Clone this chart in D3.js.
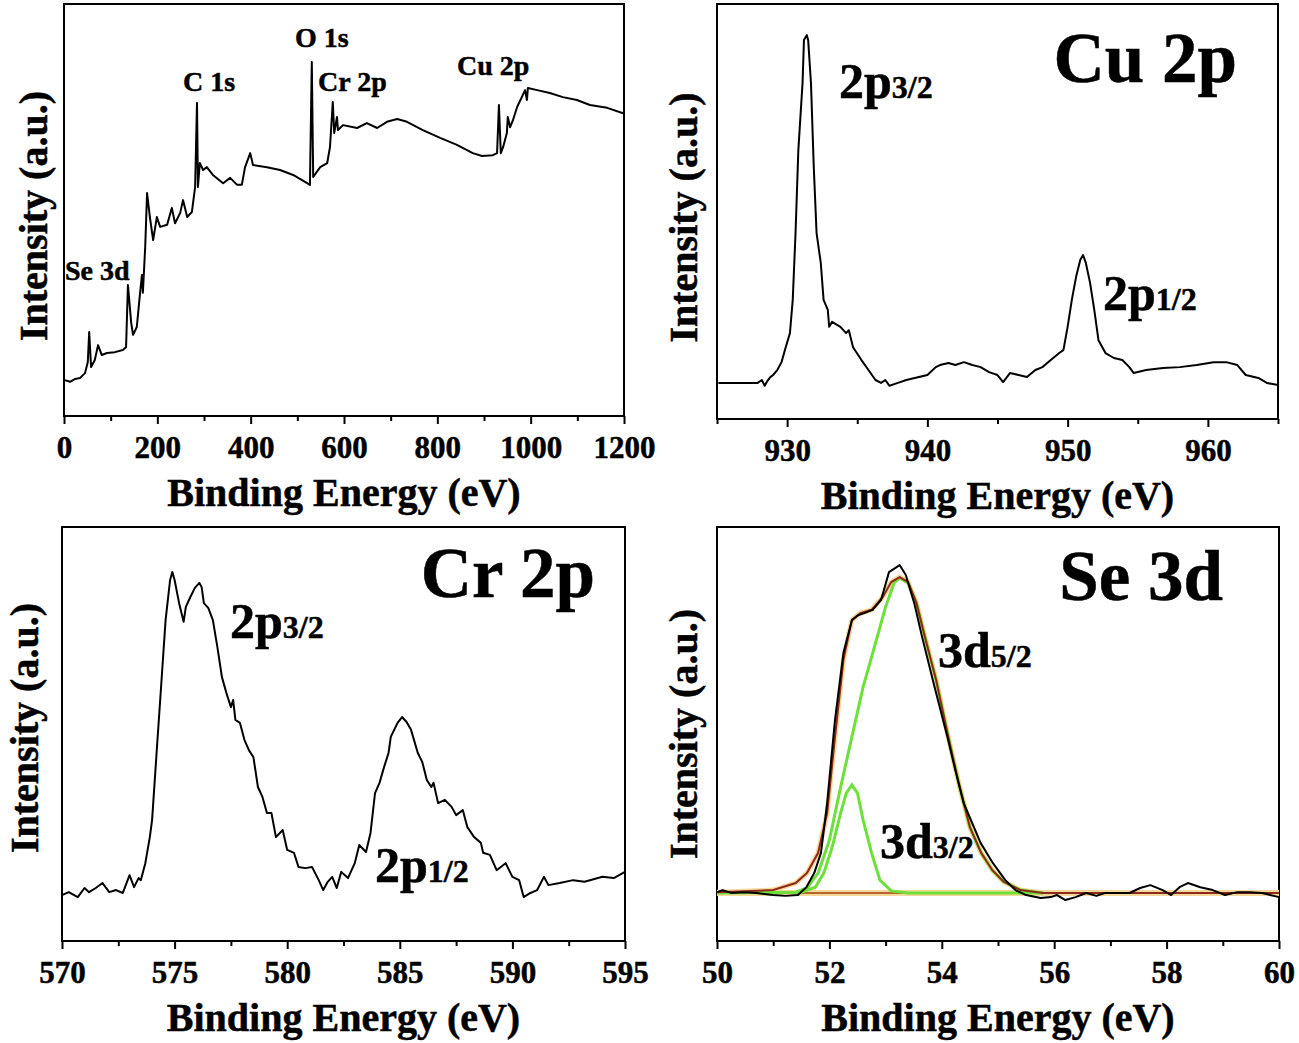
<!DOCTYPE html>
<html>
<head>
<meta charset="utf-8">
<script src="https://cdn.jsdelivr.net/npm/d3@7"></script>
<style>
  body { margin: 0; background: #fff; }
  svg { display: block; }
  text { font-family: "Liberation Serif", "Times New Roman", serif; font-weight: bold; fill: #000; stroke: #000; stroke-width: 0.5; }
  .trace { fill: none; stroke: #000; stroke-width: 2; stroke-linejoin: round; }
</style>
</head>
<body>
<svg width="1299" height="1043"></svg>
<script>
// survey spectrum: [binding energy eV, intensity a.u.]
const surveyData = [[2,8.7],[13,8.3],[24,9.0],[34,9.2],[45,10.4],[51,13.1],[54,20.4],[58,11.9],[66,13.6],[73,17.2],[81,14.8],[92,15.3],[109,15.5],[126,16.0],[133,16.7],[137,31.8],[144,22.6],[148,19.7],[156,21.6],[163,29.9],[167,34.2],[169,29.9],[174,41.0],[178,54.1],[184,48.3],[191,42.7],[199,48.3],[206,45.9],[221,46.4],[231,50.5],[238,46.8],[249,49.3],[255,52.4],[264,48.3],[274,49.5],[281,55.6],[285,76.0],[287,55.6],[291,61.4],[298,59.7],[306,60.4],[319,58.5],[341,56.5],[356,57.8],[371,56.1],[381,56.1],[388,60.4],[399,63.8],[405,60.9],[435,60.4],[463,59.7],[491,58.5],[521,56.5],[527,56.1],[531,85.9],[534,58.0],[549,60.4],[564,61.4],[570,65.3],[576,76.2],[579,68.7],[585,72.6],[587,69.4],[598,70.6],[628,69.9],[649,71.1],[671,69.9],[692,71.4],[714,72.1],[735,71.4],[769,69.4],[806,67.5],[842,65.8],[876,63.8],[896,63.1],[919,63.3],[928,63.8],[932,75.5],[936,63.8],[941,65.3],[949,68.7],[951,72.6],[956,70.1],[962,71.8],[971,75.0],[981,77.4],[988,79.1],[992,76.7],[994,79.6],[1014,79.1],[1041,78.4],[1069,77.4],[1099,76.7],[1127,75.5],[1164,74.8],[1198,73.5]]
const surveyPeaks = [["Se 3d",65,280],["C 1s",183,91],["O 1s",295,47],["Cr 2p",318,91],["Cu 2p",457,75]]

// Cu 2p
const cuData = [[925.1,8.7],[927.9,8.7],[928.2,9.4],[928.4,8.0],[928.6,9.2],[928.8,10.1],[929.0,10.6],[929.3,11.8],[929.6,13.7],[929.9,17.3],[930.2,20.7],[930.4,28.7],[930.6,44.8],[930.8,64.8],[931.1,81.0],[931.2,91.3],[931.4,92.5],[931.5,91.3],[931.7,81.0],[931.9,60.7],[932.1,44.8],[932.4,37.6],[932.6,28.7],[932.9,26.3],[933.0,22.2],[933.2,23.4],[933.8,22.2],[934.2,20.7],[934.4,21.4],[934.7,17.3],[935.3,14.2],[935.8,11.8],[936.3,9.4],[936.7,8.7],[937.0,9.4],[937.3,8.0],[937.9,8.7],[938.5,9.4],[939.1,9.9],[940.0,10.6],[940.6,12.5],[940.9,13.0],[941.5,13.5],[942.0,13.0],[942.6,13.7],[943.2,13.0],[943.8,12.5],[944.4,11.3],[945.0,10.6],[945.4,8.9],[945.9,11.1],[946.5,10.6],[947.1,10.1],[947.7,11.8],[948.2,12.5],[948.8,14.2],[949.4,15.9],[949.7,16.6],[950.0,22.2],[950.3,28.7],[950.6,34.2],[950.9,38.3],[951.1,39.5],[951.3,37.6],[951.6,32.8],[951.9,26.3],[952.2,19.0],[952.7,15.9],[953.3,14.7],[953.9,14.2],[954.4,12.5],[954.7,11.1],[955.6,11.8],[956.8,12.3],[958.0,12.5],[959.2,13.0],[960.4,13.7],[961.3,13.7],[962.1,13.0],[962.7,10.6],[963.6,9.9],[964.2,8.7],[965.0,8.2]]

// Cr 2p
const crData = [[570.0,11.1],[570.3,11.8],[570.7,10.6],[571.0,12.8],[571.2,11.8],[571.5,12.8],[571.8,14.0],[572.1,11.8],[572.4,12.3],[572.7,11.6],[573.0,15.9],[573.2,13.0],[573.4,15.2],[573.5,14.7],[573.7,18.8],[573.9,25.1],[574.0,29.2],[574.2,45.4],[574.4,61.4],[574.6,77.5],[574.8,87.2],[574.9,89.1],[575.0,87.2],[575.2,81.6],[575.4,77.1],[575.5,80.7],[575.7,83.1],[575.9,85.3],[576.1,86.5],[576.2,85.5],[576.3,81.6],[576.5,80.4],[576.7,77.5],[576.9,71.0],[577.1,63.8],[577.3,59.9],[577.5,56.5],[577.6,58.2],[577.7,53.4],[577.9,52.7],[578.1,48.6],[578.3,46.1],[578.5,44.4],[578.7,37.2],[578.9,34.8],[579.1,30.9],[579.3,30.9],[579.5,25.1],[579.8,26.8],[580.0,22.0],[580.3,21.3],[580.5,17.9],[580.8,17.6],[581.1,17.9],[581.4,14.7],[581.6,12.3],[581.8,14.3],[582.0,15.5],[582.2,12.8],[582.4,16.7],[582.7,15.2],[583.0,18.8],[583.2,23.2],[583.5,21.5],[583.7,26.1],[583.9,35.7],[584.1,38.2],[584.3,42.0],[584.5,45.4],[584.6,49.3],[584.9,52.7],[585.1,54.1],[585.3,52.9],[585.5,51.0],[585.8,45.4],[586.0,43.2],[586.2,38.9],[586.4,37.2],[586.5,38.2],[586.7,33.3],[587.0,34.1],[587.3,32.4],[587.5,30.4],[587.8,31.6],[588.0,27.5],[588.3,25.1],[588.6,23.7],[588.7,21.3],[589.0,20.8],[589.3,17.1],[589.7,18.8],[590.0,15.5],[590.3,14.7],[590.5,10.6],[590.8,11.6],[591.1,12.3],[591.4,15.5],[591.6,13.5],[592.1,14.0],[592.7,14.7],[593.2,14.3],[594.0,15.5],[594.5,15.2],[595.0,16.7]]

// Se 3d: measured, fitted envelope, two components, background
const seData = [[50.0,11.8],[50.1,12.3],[50.26,11.6],[50.48,11.8],[50.7,11.6],[51.0,11.1],[51.22,10.9],[51.44,11.1],[51.59,13.0],[51.73,16.4],[51.85,21.3],[51.96,33.3],[52.10,53.4],[52.25,69.6],[52.40,77.5],[52.51,78.7],[52.62,79.2],[52.77,80.0],[52.92,82.4],[53.06,89.1],[53.25,90.8],[53.36,88.4],[53.51,81.6],[53.65,73.4],[53.87,61.4],[54.10,49.3],[54.24,41.3],[54.39,33.3],[54.54,28.5],[54.69,23.7],[54.91,18.8],[55.13,14.7],[55.31,12.3],[55.50,11.1],[55.76,10.4],[55.94,10.6],[56.05,11.1],[56.20,9.9],[56.38,10.6],[56.57,11.6],[56.75,10.9],[56.90,11.6],[57.12,11.6],[57.34,11.6],[57.53,12.8],[57.71,13.5],[57.93,12.3],[58.08,11.1],[58.23,13.0],[58.38,14.0],[58.60,13.0],[58.82,12.3],[59.04,11.1],[59.26,11.8],[59.48,11.8],[59.70,11.6],[60.0,10.6]]
const seFit = [[50.0,11.8],[51.0,12.3],[51.4,14.0],[51.6,16.4],[51.8,21.3],[51.96,30.9],[52.1,49.3],[52.25,67.9],[52.4,77.5],[52.55,79.2],[52.75,80.0],[52.95,83.1],[53.1,86.7],[53.25,87.9],[53.4,86.7],[53.55,81.6],[53.7,73.4],[53.9,63.0],[54.1,50.2],[54.3,38.2],[54.5,27.5],[54.7,21.3],[54.9,17.1],[55.1,14.3],[55.4,12.3],[55.8,11.6],[60.0,11.6]]
const se52 = [[50.0,11.6],[51.4,11.8],[51.6,12.8],[51.8,16.4],[52.0,24.4],[52.2,37.2],[52.4,49.3],[52.6,61.4],[52.8,71.0],[53.0,80.7],[53.15,86.5],[53.25,87.7],[53.4,86.5],[53.55,81.6],[53.7,73.4],[53.9,63.0],[54.1,50.2],[54.3,38.2],[54.5,27.5],[54.7,21.3],[54.9,17.1],[55.1,14.3],[55.4,12.3],[55.8,11.6]]
const se32 = [[50.8,11.6],[51.5,11.8],[51.75,13.0],[51.9,16.4],[52.05,22.7],[52.2,30.9],[52.3,35.7],[52.4,37.7],[52.5,35.7],[52.6,29.2],[52.75,21.3],[52.9,14.7],[53.1,12.1],[53.4,11.6],[55.8,11.6]]
const seBackground = [[50.0,11.6],[60.0,11.6]]

const surveyMajor = [0,200,400,600,800,1000,1200]
const surveyMinor = [100,300,500,700,900,1100]
const cuMajor = [930,940,950,960]
const cuMinor = [925,935,945,955,965]
const crMajor = [570,575,580,585,590,595]
const crMinor = [572.5,577.5,582.5,587.5,592.5]
const seMajor = [50,52,54,56,58,60]
const seMinor = [51,53,55,57,59]

const svg = d3.select("svg")

const panels = [
  {left:64, right:624, top:4, bottom:416, domain:[0,1200], major:surveyMajor, minor:surveyMinor, ylabX:47, ylabOff:6},
  {left:717, right:1278, top:4, bottom:419, domain:[925,965], major:cuMajor, minor:cuMinor, ylabX:697, ylabOff:6},
  {left:62, right:625, top:527, bottom:941, domain:[570,595], major:crMajor, minor:crMinor, ylabX:38, ylabOff:-6},
  {left:717, right:1279, top:527, bottom:941, domain:[50,60], major:seMajor, minor:seMinor, ylabX:697, ylabOff:0}
]

panels.forEach(p => {
  p.x = d3.scaleLinear().domain(p.domain).range([p.left, p.right])
  p.y = d3.scaleLinear().domain([0,100]).range([p.bottom, p.top])
  p.line = d3.line().x(d => p.x(d[0])).y(d => p.y(d[1]))

  const g = svg.append("g")

  // minor ticks
  g.append("g")
    .attr("transform", `translate(0,${p.bottom})`)
    .call(d3.axisBottom(p.x).tickValues(p.minor).tickSize(5).tickSizeOuter(0).tickFormat(""))
    .call(a => a.select(".domain").remove())
    .selectAll("line").attr("stroke-width", 2)

  // major ticks
  const ax = g.append("g")
    .attr("transform", `translate(0,${p.bottom})`)
    .call(d3.axisBottom(p.x).tickValues(p.major).tickSize(8).tickSizeOuter(0).tickFormat(d3.format("d")))
    .call(a => a.select(".domain").remove())
  ax.selectAll("line").attr("stroke-width", 2)
  ax.selectAll("text")
    .attr("y", 42).attr("dy", null)
    .attr("font-size", 31)
    .attr("font-family", "Liberation Serif")
    .attr("font-weight", "bold")

  // frame
  g.append("rect")
    .attr("x", p.left).attr("y", p.top)
    .attr("width", p.right - p.left).attr("height", p.bottom - p.top)
    .attr("fill", "none").attr("stroke", "#000").attr("stroke-width", 2)

  g.append("text")
    .attr("x", (p.left + p.right) / 2)
    .attr("y", p.bottom + 90)
    .attr("text-anchor", "middle")
    .attr("font-size", 40)
    .text("Binding Energy (eV)")

  g.append("text")
    .attr("transform", `translate(${p.ylabX},${(p.top + p.bottom) / 2 + p.ylabOff}) rotate(-90)`)
    .attr("text-anchor", "middle")
    .attr("font-size", 40)
    .text("Intensity (a.u.)")
})

const [pA, pB, pC, pD] = panels

// survey
svg.append("path").datum(surveyData).attr("class", "trace").attr("d", pA.line)
svg.selectAll("text.peak")
  .data(surveyPeaks)
  .enter().append("text")
  .attr("class", "peak")
  .attr("x", d => d[1])
  .attr("y", d => d[2])
  .attr("font-size", 28)
  .text(d => d[0])

// Cu 2p
svg.append("path").datum(cuData).attr("class", "trace").attr("d", pB.line)

// Cr 2p
svg.append("path").datum(crData).attr("class", "trace").attr("d", pC.line)

// Se 3d
svg.append("path").datum(seBackground).attr("fill", "none").attr("stroke", "#f6d89a").attr("stroke-width", 6).attr("d", pD.line)
svg.append("path").datum(seFit).attr("fill", "none").attr("stroke", "#f6d89a").attr("stroke-width", 5).attr("d", pD.line)
svg.append("path").datum(seBackground).attr("fill", "none").attr("stroke", "#b5652d").attr("stroke-width", 2).attr("d", pD.line)
svg.append("path").datum(se32).attr("fill", "none").attr("stroke", "#6ee03a").attr("stroke-width", 3).attr("d", pD.line)
svg.append("path").datum(se52).attr("fill", "none").attr("stroke", "#6ee03a").attr("stroke-width", 3).attr("d", pD.line)
svg.append("path").datum(seFit).attr("fill", "none").attr("stroke", "#8e2a1c").attr("stroke-width", 2).attr("d", pD.line)
svg.append("path").datum(seData).attr("class", "trace").attr("d", pD.line)

// panel titles
const titles = [["Cu 2p",1237,82],["Cr 2p",595,597],["Se 3d",1223,600]]
svg.selectAll("text.title")
  .data(titles)
  .enter().append("text")
  .attr("class", "title")
  .attr("x", d => d[1]).attr("y", d => d[2])
  .attr("text-anchor", "end")
  .attr("font-size", 71)
  .text(d => d[0])

// peak labels with subscripts
const subLabels = [["2p","3/2",839,98],["2p","1/2",1103,310],["2p","3/2",230,638],["2p","1/2",375,882],["3d","5/2",938,667],["3d","3/2",880,858]]
subLabels.forEach(d => {
  const t = svg.append("text").attr("x", d[2]).attr("y", d[3]).attr("font-size", 50)
  t.append("tspan").text(d[0])
  t.append("tspan").attr("font-size", 32).text(d[1])
})
</script>
</body>
</html>
